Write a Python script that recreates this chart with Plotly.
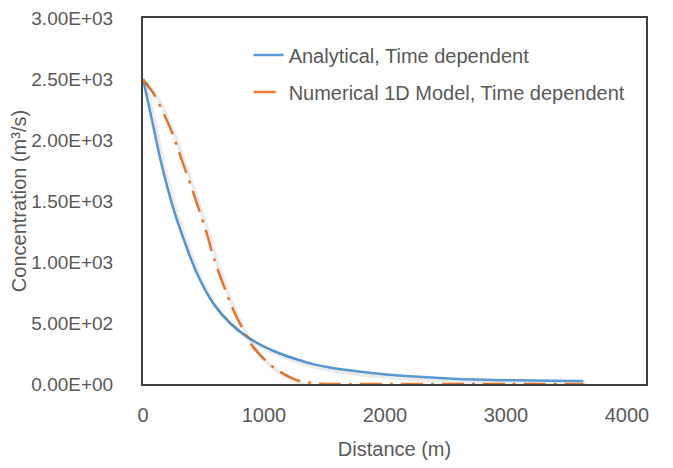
import plotly.graph_objects as go

# Analytical, time dependent
dist_analytical = [0, 85, 140, 196, 250, 320, 444, 581, 719, 857, 994, 1132, 1270,
                   1408, 1545, 1800, 2014, 2565, 3116, 3640]
conc_analytical = [2500, 2110, 1855, 1630, 1440, 1230, 910, 660, 500, 390, 310, 250,
                   203, 163, 135, 100, 78, 44, 30, 25]

# Numerical 1D model, time dependent
dist_numerical = [0, 40, 85, 223, 333, 430, 526, 581, 664, 746, 829, 898, 1022, 1132,
                  1270, 1435, 1600, 2000, 2500, 3000, 3640]
conc_numerical = [2500, 2445, 2385, 2100, 1800, 1525, 1235, 1044, 811, 607, 443, 320, 183,
                  101, 33, 6, 0, 0, 0, 0, 0]

x_ticks = [0, 1000, 2000, 3000, 4000]
y_ticks = [0, 500, 1000, 1500, 2000, 2500, 3000]
y_ticktext = ["0.00E+00", "5.00E+02", "1.00E+03", "1.50E+03",
              "2.00E+03", "2.50E+03", "3.00E+03"]

FONT = "Liberation Sans, Arial, sans-serif"
TXT = "#595959"
BLUE = "#5B9BD5"
ORANGE = "#ED7D31"
FRAME = "#404040"
FS = 20

X_MAX = 4157
Y_MAX = 3000

fig = go.Figure()

# soft drop shadows (drawn on an offset overlay axis pair)
for xs, ys in [(dist_analytical, conc_analytical), (dist_numerical, conc_numerical)]:
    fig.add_trace(go.Scatter(x=xs, y=ys, mode="lines", xaxis="x2", yaxis="y2",
                             line=dict(color="rgba(0,0,0,0.08)", width=4, shape="spline"),
                             showlegend=False, hoverinfo="skip"))

fig.add_trace(go.Scatter(x=dist_analytical, y=conc_analytical, mode="lines",
                         name="Analytical, Time dependent", legendgroup="a",
                         line=dict(color=BLUE, width=2.5, shape="spline")))
fig.add_trace(go.Scatter(x=dist_numerical, y=conc_numerical, mode="lines",
                         name="Numerical 1D Model, Time dependent", legendgroup="b",
                         line=dict(color=ORANGE, width=2.5, dash="22px,8px,3px,8px",
                                   shape="spline")))

fig.update_layout(
    width=657, height=452,
    margin=dict(l=135, r=19, t=10, b=76, autoexpand=False),
    paper_bgcolor="white", plot_bgcolor="white",
    font=dict(family=FONT, size=FS, color=TXT),
    xaxis=dict(range=[0, X_MAX], tickvals=x_ticks, showgrid=False, zeroline=False,
               showline=True, linecolor=FRAME, linewidth=2, mirror=True,
               ticks="outside", ticklen=12, tickcolor="rgba(0,0,0,0)",
               layer="below traces", automargin=False, ticklabeloverflow="allow",
               title=dict(text="Distance (m)", font=dict(size=FS, color=TXT), standoff=22)),
    yaxis=dict(range=[0, Y_MAX], tickvals=y_ticks, ticktext=y_ticktext, showgrid=False,
               zeroline=False, showline=True, linecolor=FRAME, linewidth=2, mirror=True,
               ticks="outside", ticklen=24, tickcolor="rgba(0,0,0,0)",
               tickfont=dict(size=19, color=TXT),
               layer="below traces", automargin=False, ticklabeloverflow="allow",
               title=dict(text="Concentration (m³/s)", font=dict(size=FS, color=TXT),
                          standoff=2)),
    xaxis2=dict(overlaying="x", range=[-25, X_MAX - 25], visible=False),
    yaxis2=dict(overlaying="y", range=[25, Y_MAX + 25], visible=False),
    legend=dict(x=0.21, y=0.952, xanchor="left", yanchor="top",
                bgcolor="rgba(0,0,0,0)", tracegroupgap=8,
                font=dict(size=FS, color=TXT, family=FONT)),
    showlegend=True,
)

fig.write_html("out.html")
